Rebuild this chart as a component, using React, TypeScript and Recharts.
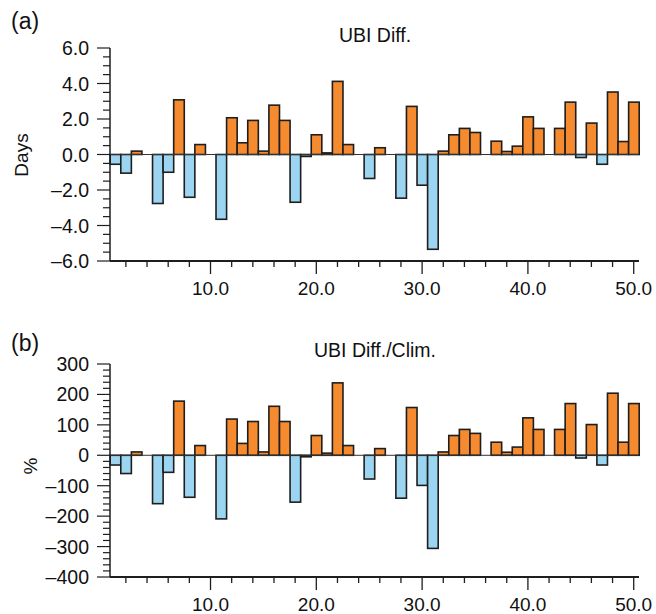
import { Bar, BarChart, ReferenceLine, XAxis, YAxis } from "recharts";

// pentad/day index 1..50
const ubiDiff = [
  -0.55, -1.05, 0.19, 0, -2.76, -1.0, 3.08, -2.41, 0.56, 0,
  -3.65, 2.07, 0.66, 1.92, 0.19, 2.78, 1.92, -2.69, -0.11, 1.11,
  0.09, 4.12, 0.56, 0, -1.35, 0.38, 0, -2.46, 2.71, -1.73,
  -5.34, 0.19, 1.11, 1.47, 1.24, 0, 0.75, 0.17, 0.47, 2.12,
  1.47, 0, 1.47, 2.95, -0.17, 1.77, -0.55, 3.52, 0.73, 2.95,
];

const ubiPct = [
  -32, -60, 11, 0, -159, -56, 178, -138, 32, 0,
  -209, 119, 39, 111, 11, 161, 111, -154, -5, 65,
  7, 238, 32, 0, -78, 22, 0, -141, 157, -99,
  -306, 11, 65, 85, 72, 0, 43, 10, 27, 123,
  85, 0, 85, 170, -9, 101, -32, 204, 43, 170,
];

const xMajor = [10, 20, 30, 40, 50];
const daysMajor = [-6, -4, -2, 0, 2, 4, 6];
const pctMajor = [-400, -300, -200, -100, 0, 100, 200, 300];

const data = ubiDiff.map((v, i) => ({ day: i + 1, days: v, pct: ubiPct[i] }));

const ORANGE = "#F58A2F";
const BLUE = "#9BD5F2";
const INK = "#1e1e1e";
const FONT = '"Liberation Sans", Arial, Helvetica, sans-serif';

const W = 656;
const H = 307;
const LEFT = 110;
const RIGHT = 17;
const BAND = (W - LEFT - RIGHT) / ubiDiff.length;

function minorTicks(lo: number, hi: number, step: number) {
  const out: number[] = [];
  for (let v = lo; v <= hi + 1e-9; v += step) out.push(Math.round(v * 100) / 100);
  return out;
}

const dash = (s: string) => s.replace("-", "\u2013");

function XTick(props: any) {
  const { x, y, payload } = props;
  const v = Number(payload.value);
  if (v % 2 !== 0) return <g />;
  const major = xMajor.includes(v);
  return (
    <g>
      <line x1={x} x2={x} y1={y} y2={y + (major ? 13 : 6)} stroke={INK} strokeWidth={1.3} />
      {major && (
        <text x={x} y={y + 34} textAnchor="middle" fontSize={19} fontFamily={FONT} fill="#111">
          {v.toFixed(1)}
        </text>
      )}
    </g>
  );
}

function makeYTick(majors: number[], fmt: (v: number) => string) {
  return function YTick(props: any) {
    const { x, y, payload } = props;
    const v = Number(payload.value);
    const major = majors.includes(v);
    return (
      <g>
        <line x1={x - (major ? 13 : 7)} x2={x} y1={y} y2={y} stroke={INK} strokeWidth={1.2} />
        {major && (
          <text x={x - 21} y={y} dy="0.36em" textAnchor="end" fontSize={19.5} fontFamily={FONT} fill="#111">
            {dash(fmt(v))}
          </text>
        )}
      </g>
    );
  };
}

function makeShape(key: string) {
  return function BarShape(props: any) {
    const { x, y, width, height, payload } = props;
    const v = payload[key];
    if (!v) return <g />;
    const top = Math.min(y, y + height);
    const h = Math.abs(height);
    const cx = x + width / 2;
    return (
      <rect
        x={cx - BAND / 2}
        y={top}
        width={BAND}
        height={h}
        fill={v > 0 ? ORANGE : BLUE}
        stroke={INK}
        strokeWidth={1.6}
      />
    );
  };
}

function Panel({
  dataKey,
  domain,
  ticks,
  majors,
  fmt,
  marginTop,
  xHeight,
}: {
  dataKey: string;
  domain: [number, number];
  ticks: number[];
  majors: number[];
  fmt: (v: number) => string;
  marginTop: number;
  xHeight: number;
}) {
  return (
    <BarChart
      width={W}
      height={H}
      data={data}
      margin={{ top: marginTop, right: RIGHT, left: 0, bottom: 0 }}
      barCategoryGap={0}
      barGap={0}
    >
      <XAxis
        dataKey="day"
        type="category"
        interval={0}
        tickSize={0}
        tickMargin={0}
        height={xHeight}
        tick={<XTick />}
        axisLine={{ stroke: INK, strokeWidth: 2 }}
      />
      <XAxis
        xAxisId="top"
        dataKey="day"
        orientation="top"
        height={0}
        tick={false}
        tickLine={false}
        axisLine={{ stroke: "#444", strokeWidth: 1.5 }}
      />
      <YAxis
        type="number"
        domain={domain}
        ticks={ticks}
        interval={0}
        allowDataOverflow
        tickSize={0}
        tickMargin={0}
        width={LEFT}
        tick={makeYTick(majors, fmt)}
        axisLine={{ stroke: INK, strokeWidth: 1.5 }}
      />
      <YAxis
        yAxisId="right"
        orientation="right"
        width={0}
        tick={false}
        tickLine={false}
        axisLine={{ stroke: "#555", strokeWidth: 1.5 }}
      />
      <ReferenceLine y={0} stroke="#333" strokeWidth={1} />
      <Bar dataKey={dataKey} shape={makeShape(dataKey)} isAnimationActive={false} />
    </BarChart>
  );
}

export default function App() {
  return (
    <div
      style={{
        position: "fixed",
        left: 0,
        top: 0,
        width: W,
        height: 614,
        background: "#fff",
        fontFamily: FONT,
      }}
    >
      <div style={{ position: "absolute", left: 0, top: 0 }}>
        <Panel
          dataKey="days"
          domain={[-6, 6]}
          ticks={minorTicks(-6, 6, 0.5)}
          majors={daysMajor}
          fmt={(v) => v.toFixed(1)}
          marginTop={48}
          xHeight={46}
        />
      </div>
      <div style={{ position: "absolute", left: 0, top: 307 }}>
        <Panel
          dataKey="pct"
          domain={[-400, 300]}
          ticks={minorTicks(-400, 300, 20)}
          majors={pctMajor}
          fmt={(v) => String(v)}
          marginTop={57}
          xHeight={37}
        />
      </div>
      <svg
        width={W}
        height={614}
        style={{ position: "absolute", left: 0, top: 0, pointerEvents: "none" }}
      >
        <g fontFamily={FONT} fill="#111">
          <text x={11} y={29} fontSize={23}>(a)</text>
          <text x={375} y={42} fontSize={19.5} textAnchor="middle">UBI Diff.</text>
          <text x={28} y={155} fontSize={19} textAnchor="middle" transform="rotate(-90 28 155)">
            Days
          </text>
          <text x={11} y={351} fontSize={23}>(b)</text>
          <text x={375} y={357} fontSize={19.5} textAnchor="middle">UBI Diff./Clim.</text>
          <text x={37} y={466} fontSize={19} textAnchor="middle" transform="rotate(-90 37 466)">
            %
          </text>
        </g>
      </svg>
    </div>
  );
}
